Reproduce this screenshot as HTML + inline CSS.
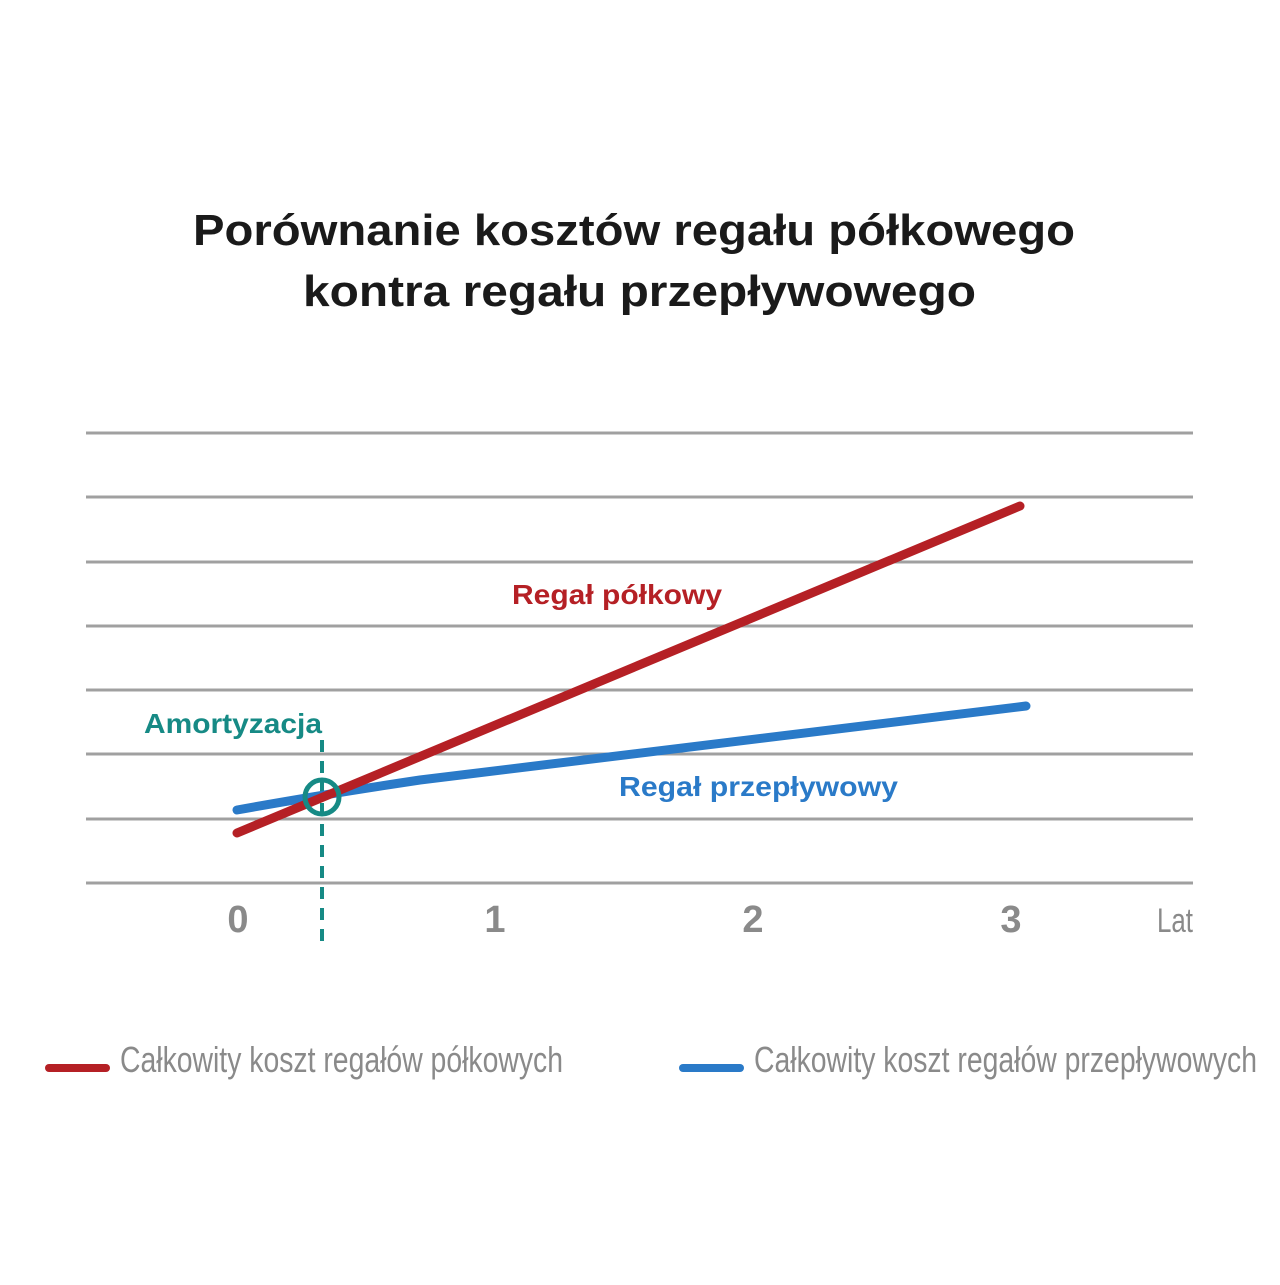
<!DOCTYPE html>
<html><head><meta charset="utf-8"><style>
body{margin:0;background:#fff}
svg text{font-family:"Liberation Sans",sans-serif}
</style></head><body>
<svg width="1280" height="1280" viewBox="0 0 1280 1280" xmlns="http://www.w3.org/2000/svg">
<rect width="1280" height="1280" fill="#fff"/>
<text x="193" y="245" font-size="44" font-weight="bold" fill="#1a1a1a" textLength="882" lengthAdjust="spacingAndGlyphs">Porównanie kosztów regału półkowego</text>
<text x="303" y="306" font-size="44" font-weight="bold" fill="#1a1a1a" textLength="673" lengthAdjust="spacingAndGlyphs">kontra regału przepływowego</text>
<g stroke="#a0a0a0" stroke-width="3">
<line x1="86" y1="433" x2="1193" y2="433"/><line x1="86" y1="497" x2="1193" y2="497"/>
<line x1="86" y1="562" x2="1193" y2="562"/><line x1="86" y1="626" x2="1193" y2="626"/>
<line x1="86" y1="690" x2="1193" y2="690"/><line x1="86" y1="754" x2="1193" y2="754"/>
<line x1="86" y1="819" x2="1193" y2="819"/><line x1="86" y1="883" x2="1193" y2="883"/>
</g>
<line x1="322" y1="740" x2="322" y2="948" stroke="#168a85" stroke-width="4" stroke-dasharray="12,9"/>
<path d="M237 810 Q320 795 420 780 L1026 706" fill="none" stroke="#2a7ac8" stroke-width="9" stroke-linecap="round"/>
<line x1="237" y1="833" x2="1020" y2="506" stroke="#b52025" stroke-width="9" stroke-linecap="round"/>
<circle cx="322" cy="797" r="17" fill="none" stroke="#168a85" stroke-width="5"/>
<text x="512" y="604" font-size="28" font-weight="bold" fill="#b52025" textLength="210" lengthAdjust="spacingAndGlyphs">Regał półkowy</text>
<text x="619" y="796" font-size="28" font-weight="bold" fill="#2a7ac8" textLength="279" lengthAdjust="spacingAndGlyphs">Regał przepływowy</text>
<text x="144" y="733" font-size="28" font-weight="bold" fill="#168a85" textLength="178" lengthAdjust="spacingAndGlyphs">Amortyzacja</text>
<g font-size="38" font-weight="bold" fill="#8a8a8a" text-anchor="middle">
<text x="238" y="932">0</text><text x="495" y="932">1</text><text x="753" y="932">2</text><text x="1011" y="932">3</text>
</g>
<text x="1157" y="932" font-size="34" fill="#8a8a8a" textLength="36" lengthAdjust="spacingAndGlyphs">Lat</text>
<line x1="49" y1="1068" x2="106" y2="1068" stroke="#b52025" stroke-width="8" stroke-linecap="round"/>
<line x1="683" y1="1068" x2="740" y2="1068" stroke="#2a7ac8" stroke-width="8" stroke-linecap="round"/>
<g font-size="36" fill="#8a8a8a">
<text x="120" y="1072" textLength="443" lengthAdjust="spacingAndGlyphs">Całkowity koszt regałów półkowych</text>
<text x="754" y="1072" textLength="503" lengthAdjust="spacingAndGlyphs">Całkowity koszt regałów przepływowych</text>
</g>
</svg>
</body></html>
